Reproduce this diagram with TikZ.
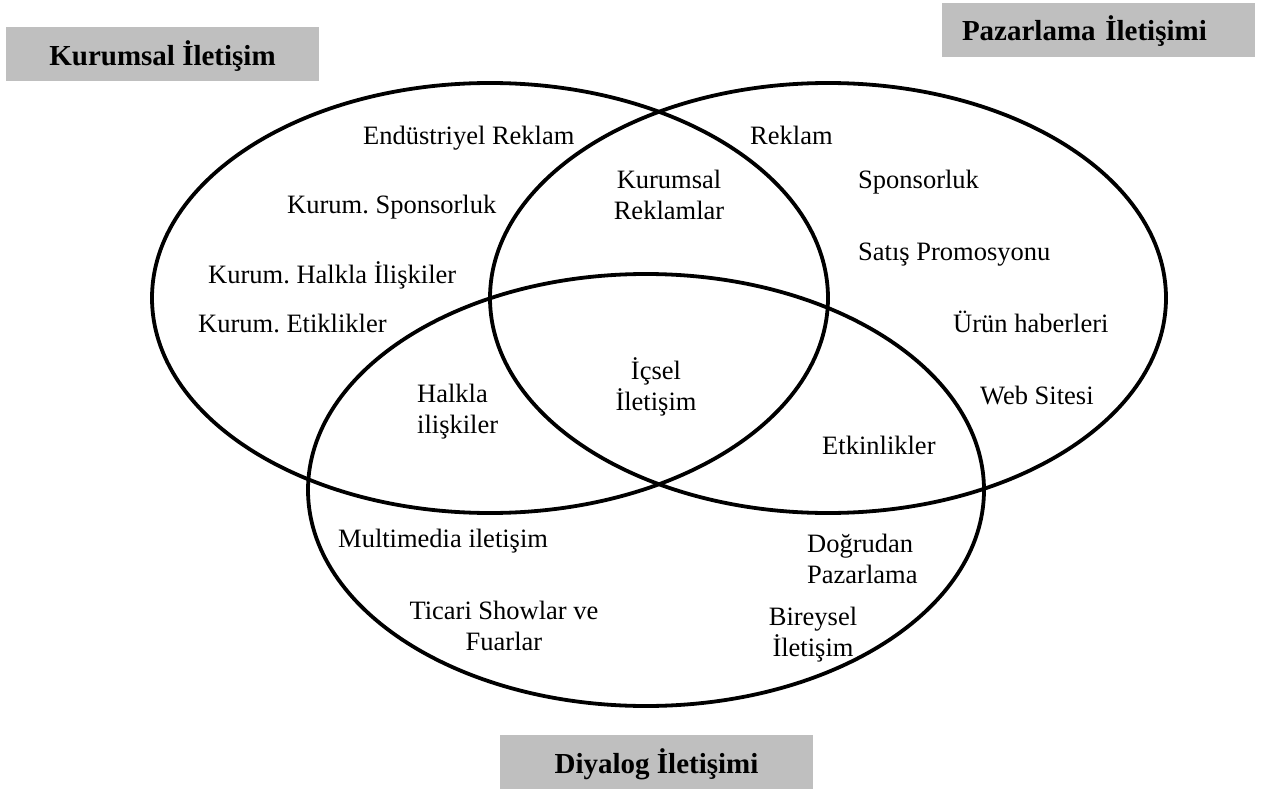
\documentclass[tikz,border=0pt]{standalone}
\usepackage{fontspec}
\setmainfont{Liberation Serif}
\frenchspacing
\definecolor{boxgray}{RGB}{191,191,191}
\tikzset{
  ring/.style={line width=3.8pt, draw=black},
  item/.style={inner sep=0pt, font=\rmfamily\fontsize{26.5pt}{30.5pt}\selectfont},
  titlebox/.style={fill=boxgray, inner ysep=0pt, minimum height=54pt,
    text height=24pt, text depth=2pt,
    font=\rmfamily\bfseries\fontsize{29pt}{33pt}\selectfont},
}
\begin{document}
\begin{tikzpicture}[x=1pt, y=-1pt]
\useasboundingbox (0,0) rectangle (1264,789);

% the three overlapping fields
\draw[ring] (490,298) ellipse [x radius=338pt, y radius=215pt];
\draw[ring] (828,298) ellipse [x radius=338pt, y radius=215pt];
\draw[ring] (646,490) ellipse [x radius=338pt, y radius=216pt];

% field titles
\node[titlebox, minimum width=313pt, inner xsep=0pt] (kur) at (162.5,54.5) {Kurumsal İletişim};
\node[titlebox, text width=273pt, inner xsep=20pt, align=left] (paz) at (1098.5,30) {Pazarlama İletişimi};
\node[titlebox, minimum width=313pt, inner xsep=0pt] (diy) at (656.5,762) {Diyalog İletişimi};

% corporate communication only
\node[item, anchor=base west] (endrek) at (363,145) {Endüstriyel Reklam};
\node[item, anchor=base west] (kspon) at (287,213) {Kurum. Sponsorluk};
\node[item, anchor=base west] (khalk) at (208,283) {Kurum. Halkla İlişkiler};
\node[item, anchor=base west] (ketik) at (198,332) {Kurum. Etiklikler};

% marketing communication only
\node[item, anchor=base west] (rek) at (750,145) {Reklam};
\node[item, anchor=base west] (spon) at (858,188) {Sponsorluk};
\node[item, anchor=base west] (satis) at (858,260) {Satış Promosyonu};
\node[item, anchor=base west] (urun) at (953,332) {Ürün haberleri};
\node[item, anchor=base west] (web) at (980,404) {Web Sitesi};

% overlaps (two-line labels are placed by the baseline of their last line)
\node[item, anchor=base, align=center] (kurrek) at (669,219) {Kurumsal\\Reklamlar};
\node[item, anchor=base, align=center] (icsel) at (656,410) {İçsel\\İletişim};
\node[item, anchor=base west, align=left] (halkla) at (417,433) {Halkla\\ilişkiler};
\node[item, anchor=base west] (etkin) at (822,454) {Etkinlikler};

% dialogue communication only
\node[item, anchor=base west] (multi) at (338,547) {Multimedia iletişim};
\node[item, anchor=base, align=center] (ticari) at (504,650) {Ticari Showlar ve\\Fuarlar};
\node[item, anchor=base west, align=left] (dogru) at (807,583) {Doğrudan\\Pazarlama};
\node[item, anchor=base, align=center] (bir) at (813,656) {Bireysel\\İletişim};
\end{tikzpicture}
\end{document}
